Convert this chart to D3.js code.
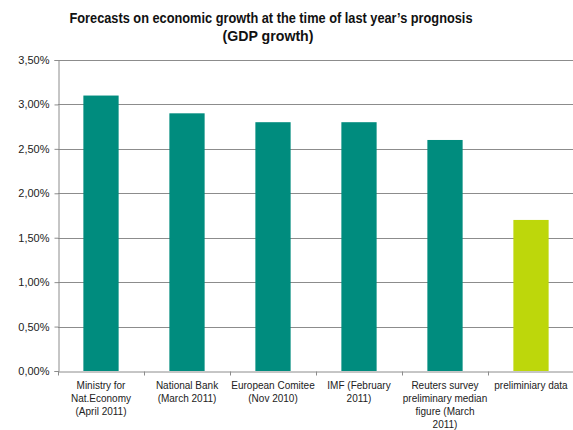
<!DOCTYPE html>
<html><head><meta charset="utf-8">
<script src="https://cdnjs.cloudflare.com/ajax/libs/d3/7.8.5/d3.min.js"></script>
<style>body{margin:0;background:#fff}svg{display:block}text{font-family:Arial,"Liberation Sans",Helvetica,sans-serif}</style>
</head><body><svg id="c" width="573" height="430"></svg>
<script>
const categories = [
  ["Ministry for","Nat.Economy","(April 2011)"],
  ["National Bank","(March 2011)"],
  ["European  Comitee","(Nov 2010)"],
  ["IMF (February","2011)"],
  ["Reuters survey","preliminary median","figure (March","2011)"]
  ,["preliminiary data"]
];
const values = [3.1, 2.9, 2.8, 2.8, 2.6, 1.7];
const colors = ["#008C7E","#008C7E","#008C7E","#008C7E","#008C7E","#BDD70B"];
const yTicks = [0,0.5,1,1.5,2,2.5,3,3.5];
const titleLines = ["Forecasts on economic growth at the time of last year\u2019s prognosis","(GDP growth)"];

const FONT = 'Arial, "Liberation Sans", Helvetica, sans-serif';
const TFONT = '"Liberation Sans Narrow", "Arial Narrow", Arial, "Liberation Sans", sans-serif';
const svg = d3.select("#c");
const m = {l:58, r:574, t:60, b:371};
const x = d3.scaleBand().domain(d3.range(values.length)).range([m.l, m.r]).paddingInner(0.59).paddingOuter(0.295);
const xb = d3.scaleBand().domain(d3.range(values.length)).range([m.l, m.r]);
const y = d3.scaleLinear().domain([0,3.5]).range([m.b, m.t]);

// gridlines
svg.append("g").selectAll("line").data(yTicks.filter(d=>d>0)).join("line")
  .attr("x1", m.l).attr("x2", m.r).attr("y1", d=>Math.round(y(d))+0.5).attr("y2", d=>Math.round(y(d))+0.5)
  .attr("stroke","#8c8c8c").attr("stroke-width",1);

// y axis
const ya = svg.append("g").attr("transform",`translate(${m.l+0.5},0)`)
  .call(d3.axisLeft(y).tickValues(yTicks).tickSize(4).tickPadding(5)
    .tickFormat(d=>d3.format(".2f")(d).replace(".",",")+"%"));
ya.attr("font-family",FONT);
ya.select(".domain").attr("stroke","#8c8c8c");
ya.selectAll(".tick line").attr("stroke","#8c8c8c");
ya.selectAll(".tick text").attr("font-size","11px").attr("fill","#222");

// bars
svg.append("g").selectAll("rect").data(values).join("rect")
  .attr("x",(d,i)=>x(i)).attr("width",x.bandwidth())
  .attr("y",d=>y(d)).attr("height",d=>y(0)-y(d))
  .attr("fill",(d,i)=>colors[i]);

// x axis
const xa = svg.append("g").attr("transform",`translate(0,${m.b+0.5})`)
  .call(d3.axisBottom(xb).tickSize(0).tickFormat(""));
xa.select(".domain").attr("stroke","#8c8c8c");
xa.selectAll(".tick").remove();
xa.selectAll("line.cat").data(d3.range(values.length)).join("line").attr("class","cat")
  .attr("x1",i=>xb(i)+0.5).attr("x2",i=>xb(i)+0.5).attr("y1",0).attr("y2",4).attr("stroke","#8c8c8c");

// category labels
const lab = svg.append("g").attr("font-family",FONT);
categories.forEach((lines,i)=>{
  const t = lab.append("text").attr("text-anchor","middle").attr("font-size","10px").attr("fill","#222")
    .attr("transform",`translate(${xb(i)+xb.bandwidth()/2},${m.b+18})`);
  lines.forEach((s,j)=>t.append("tspan").attr("x",0).attr("y",j*13).text(s));
});

// title
svg.append("text").attr("x",271).attr("y",23).attr("text-anchor","middle").attr("font-size","15px")
  .attr("font-family",TFONT).attr("font-weight","bold").attr("fill","#111").attr("textLength",403).attr("lengthAdjust","spacingAndGlyphs").text(titleLines[0]);
svg.append("text").attr("x",268).attr("y",41).attr("text-anchor","middle").attr("font-size","15px")
  .attr("font-family",TFONT).attr("font-weight","bold").attr("fill","#111").attr("textLength",91).attr("lengthAdjust","spacingAndGlyphs").text(titleLines[1]);
</script></body></html>
